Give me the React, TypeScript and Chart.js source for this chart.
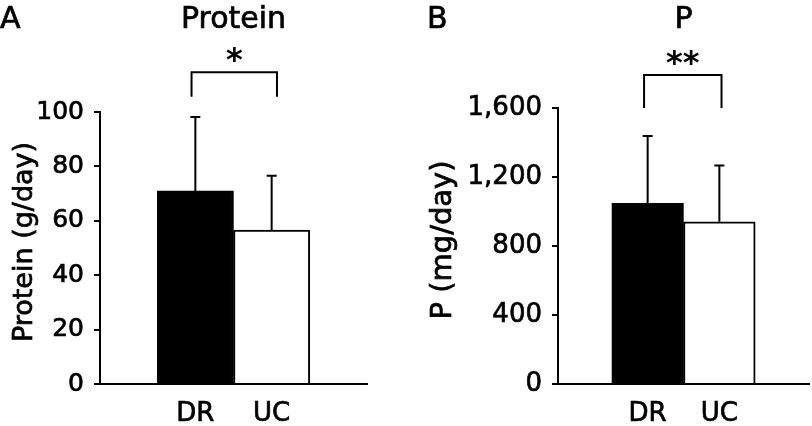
import React, { useEffect, useRef } from 'react';
import { Chart, registerables } from 'chart.js';

Chart.register(...registerables);

const FONT = '"DejaVu Sans", Verdana, sans-serif';
const STROKE = 0.7;

// ---- data ----
const groups = ['DR', 'UC'];

const proteinMeans = [71.0, 56.6];
const proteinSD = [27.2, 20.0];
const proteinTicks = [0, 20, 40, 60, 80, 100];
const proteinBracketY = [105.6, 114.6]; // leg end, bracket top (data units)
const proteinBracketX = [-0.05, 1.07];

const phosMeans = [1048, 940];
const phosSD = [390, 326];
const phosTicks = [0, 400, 800, 1200, 1600];
const phosBracketY = [1600, 1791];
const phosBracketX = [-0.05, 1.03];

type PanelCfg = {
  letter: string;
  title: string;
  yTitle: string;
  means: number[];
  sds: number[];
  ticks: number[];
  max: number;
  bracketY: number[];
  bracketX: number[];
  stars: string;
  yWidth: number;
  padTop: number;
  padRight: number;
  tickFont: number;
  yTitleFont: number;
  yTitleX: number;
  letterX: number;
};

const panels: PanelCfg[] = [
  {
    letter: 'A', title: 'Protein', yTitle: 'Protein (g/day)',
    means: proteinMeans, sds: proteinSD, ticks: proteinTicks, max: 100,
    bracketY: proteinBracketY, bracketX: proteinBracketX, stars: '*',
    yWidth: 100, padTop: 112, padRight: 39, tickFont: 25, yTitleFont: 27, yTitleX: 32, letterX: 0,
  },
  {
    letter: 'B', title: 'P', yTitle: 'P (mg/day)',
    means: phosMeans, sds: phosSD, ticks: phosTicks, max: 1600,
    bracketY: phosBracketY, bracketX: phosBracketX, stars: '**',
    yWidth: 152, padTop: 108, padRight: 3, tickFont: 26, yTitleFont: 29, yTitleX: 45, letterX: 21,
  },
];

function drawText(ctx: CanvasRenderingContext2D, s: string, x: number, y: number) {
  ctx.fillText(s, x, y);
  ctx.lineWidth = STROKE;
  ctx.strokeText(s, x, y);
}

function makeAnnot(p: PanelCfg) {
  return {
    id: 'annot',
    afterDatasetsDraw(chart: any) {
      const ctx = chart.ctx as CanvasRenderingContext2D;
      const xs = chart.scales.x;
      const ys = chart.scales.y;
      const meta = chart.getDatasetMeta(0);
      const area = chart.chartArea;
      ctx.save();
      ctx.strokeStyle = '#000';
      ctx.fillStyle = '#000';
      ctx.lineWidth = 2;
      // error bars
      p.means.forEach((m, i) => {
        const el = meta.data[i];
        const x = el.x;
        const y0 = ys.getPixelForValue(m);
        const y1 = ys.getPixelForValue(m + p.sds[i]);
        ctx.beginPath();
        ctx.moveTo(x, y0);
        ctx.lineTo(x, y1);
        ctx.moveTo(x - 5, y1);
        ctx.lineTo(x + 5, y1);
        ctx.stroke();
      });
      // bracket
      const bxL = xs.getPixelForValue(p.bracketX[0]);
      const bxR = xs.getPixelForValue(p.bracketX[1]);
      const byLeg = ys.getPixelForValue(p.bracketY[0]);
      const byTop = ys.getPixelForValue(p.bracketY[1]);
      ctx.lineWidth = 2;
      ctx.beginPath();
      ctx.moveTo(bxL, byLeg);
      ctx.lineTo(bxL, byTop);
      ctx.lineTo(bxR, byTop);
      ctx.lineTo(bxR, byLeg);
      ctx.stroke();
      // stars
      ctx.font = `bold 32px ${FONT}`;
      ctx.textAlign = 'center';
      ctx.textBaseline = 'alphabetic';
      ctx.fillText(p.stars, (bxL + bxR) / 2, byTop - 2);
      // title
      const cx = xs.getPixelForValue(0.5);
      ctx.font = `30px ${FONT}`;
      drawText(ctx, p.title, cx, 28);
      // letter
      ctx.textAlign = 'left';
      drawText(ctx, p.letter, p.letterX, 28);
      // y title
      ctx.font = `${p.yTitleFont}px ${FONT}`;
      ctx.translate(p.yTitleX, (area.top + area.bottom) / 2 - 6);
      ctx.rotate(-Math.PI / 2);
      ctx.textAlign = 'center';
      ctx.textBaseline = 'alphabetic';
      drawText(ctx, p.yTitle, 0, 0);
      ctx.restore();
    },
  };
}

function Panel({ p, left }: { p: PanelCfg; left: number }) {
  const ref = useRef<HTMLCanvasElement>(null);
  useEffect(() => {
    if (!ref.current) return;
    const chart = new Chart(ref.current, {
      type: 'bar',
      data: {
        datasets: [
          {
            data: p.means.map((m, i) => ({ x: i, y: m })),
            backgroundColor: ['#000000', '#ffffff'],
            borderColor: '#000000',
            borderWidth: 2,
            barPercentage: 1,
            categoryPercentage: 1,
          } as any,
        ],
      },
      options: {
        animation: false,
        responsive: false,
        maintainAspectRatio: false,
        events: [],
        layout: { padding: { top: p.padTop, right: p.padRight, left: 0, bottom: 0 } },
        plugins: { legend: { display: false }, tooltip: { enabled: false }, title: { display: false } },
        scales: {
          x: {
            type: 'linear',
            min: -1.25,
            max: 2.25,
            offset: false,
            grid: { display: false, drawTicks: false },
            border: { display: true, color: '#000', width: 2 },
            afterBuildTicks: (s: any) => {
              s.ticks = groups.map((_, i) => ({ value: i }));
            },
            afterFit: (s: any) => {
              s.height = 42;
            },
            ticks: {
              autoSkip: false,
              maxRotation: 0,
              padding: 15,
              color: '#000',
              textStrokeColor: '#000',
              textStrokeWidth: STROKE,
              font: { family: FONT, size: 26 },
              callback: (v: any) => groups[v as number] ?? '',
            },
          },
          y: {
            type: 'linear',
            min: 0,
            max: p.max,
            grid: { drawOnChartArea: false, drawTicks: true, tickLength: 6, color: '#000', lineWidth: 2 },
            border: { display: true, color: '#000', width: 2 },
            afterBuildTicks: (s: any) => {
              s.ticks = p.ticks.map((v) => ({ value: v }));
            },
            afterFit: (s: any) => {
              s.width = p.yWidth;
            },
            ticks: {
              padding: 10,
              color: '#000',
              textStrokeColor: '#000',
              textStrokeWidth: STROKE,
              font: { family: FONT, size: p.tickFont },
              callback: (v: any) => Number(v).toLocaleString('en-US'),
            },
          },
        } as any,
      },
      plugins: [makeAnnot(p)],
    });
    return () => chart.destroy();
  }, [p]);
  return (
    <canvas
      ref={ref}
      width={406}
      height={426}
      style={{ position: 'absolute', left, top: 0, width: 406, height: 426 }}
    />
  );
}

export default function App() {
  return (
    <div style={{ position: 'fixed', left: 0, top: 0, width: 812, height: 426, background: '#fff' }}>
      <Panel p={panels[0]} left={0} />
      <Panel p={panels[1]} left={406} />
    </div>
  );
}
